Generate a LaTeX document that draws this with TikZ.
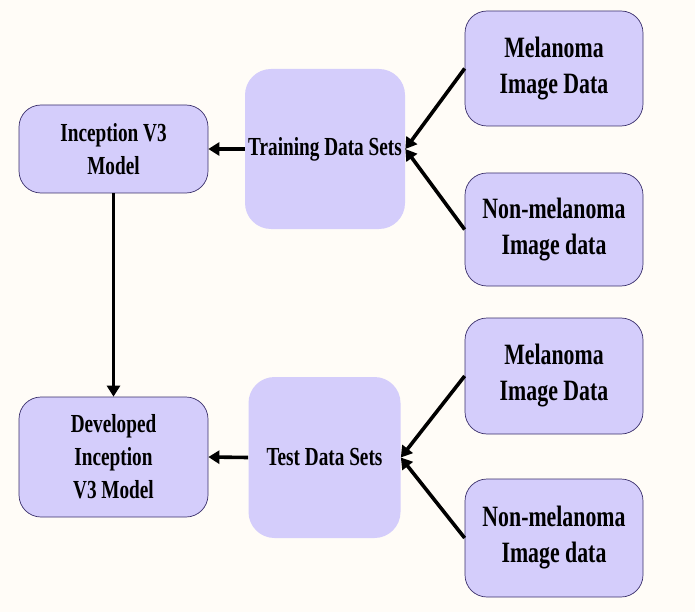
\documentclass[tikz,border=0pt]{standalone}
\usepackage{fontspec}
\setmainfont{Liberation Serif}[FakeStretch=0.74]
\usetikzlibrary{arrows.meta}
\definecolor{bgc}{HTML}{FFFCF7}
\definecolor{boxc}{HTML}{D4CDFB}
\definecolor{edgec}{HTML}{3A2F6B}
\tikzset{
  box/.style={rectangle, rounded corners=22pt, fill=boxc, draw=edgec, line width=0.7pt,
    inner sep=0pt, align=center, font=\fontsize{26}{33}\selectfont\bfseries},
  databox/.style={box, font=\fontsize{29.5}{36}\selectfont\bfseries},
  plainbox/.style={box, draw=none, rounded corners=26pt},
  conn/.style={line width=3.6pt, -{Triangle[length=11pt,width=13pt]}}
}
\begin{document}
\begin{tikzpicture}[x=1pt,y=-1pt]
\fill[bgc] (0,0) rectangle (695,612);
\useasboundingbox (0,0) rectangle (695,612);
\node[box, minimum width=189pt, minimum height=88pt] (incep) at (113.5,149) {Inception V3\\Model};
\node[plainbox, minimum width=160pt, minimum height=160pt] (train) at (325,149) {Training Data Sets};
\node[databox, minimum width=178pt, minimum height=115pt] (mel1) at (554,68.5) {Melanoma\\Image Data};
\node[databox, minimum width=178pt, minimum height=113pt] (non1) at (554,229.5) {Non-melanoma\\Image data};
\node[box, minimum width=189pt, minimum height=120pt] (dev) at (113.5,457) {Developed\\Inception\\V3 Model};
\node[plainbox, minimum width=152pt, minimum height=161pt] (test) at (324.5,457.5) {Test Data Sets};
\node[databox, minimum width=178pt, minimum height=116pt] (mel2) at (554,376) {Melanoma\\Image Data};
\node[databox, minimum width=178pt, minimum height=118pt] (non2) at (554,538) {Non-melanoma\\Image data};
\draw[conn] (train.west) -- (incep.east);
\draw[conn] (test.west) -- (dev.east);
\draw[conn, line width=3pt] (incep.south) -- (dev.north);
\draw[conn] (mel1.west) -- (train.east);
\draw[conn] (non1.west) -- (train.east);
\draw[conn] (mel2.west) -- (test.east);
\draw[conn] (non2.west) -- (test.east);
\end{tikzpicture}
\end{document}
